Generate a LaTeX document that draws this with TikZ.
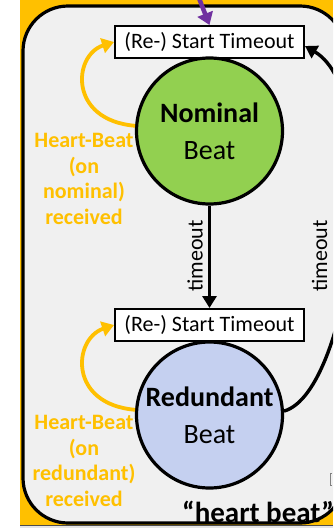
\documentclass[tikz,border=0pt]{standalone}
\usepackage{fontspec}
\setmainfont{Carlito}
\usetikzlibrary{arrows.meta}
\definecolor{hbyellow}{HTML}{FFC000}
\definecolor{panelgray}{HTML}{F0F0F0}
\definecolor{nomgreen}{HTML}{92D050}
\definecolor{redblue}{HTML}{C5D0F0}
\definecolor{evpurple}{HTML}{7030A0}

\begin{document}
\begin{tikzpicture}[x=1pt,y=-1pt,
  timerbox/.style={draw=black, line width=2pt, fill=white,
    minimum width=189pt, minimum height=32pt, inner sep=0pt,
    font=\fontsize{22}{26}\selectfont},
  beatstate/.style={circle, draw=black, line width=3.2pt, minimum size=146pt,
    inner sep=0pt, align=center, font=\fontsize{28}{37}\selectfont},
  hbtext/.style={text=hbyellow, font=\bfseries\fontsize{22}{25.7}\selectfont,
    align=center, inner sep=0pt},
  looparrow/.style={draw=hbyellow, line width=3.8pt,
    -{Triangle[length=12pt,width=15pt]}},
  transarrow/.style={draw=black, line width=3.4pt,
    -{Triangle[length=12pt,width=14pt]}},
  eventarrow/.style={draw=evpurple, line width=4.5pt,
    -{Triangle[length=12pt,width=16pt]}},
  edgelabel/.style={font=\fontsize{22}{26}\selectfont, rotate=90, inner sep=0pt}
]
\useasboundingbox (0,0) rectangle (333,528);
\clip (0,0) rectangle (333,528);

% backdrop and state-machine panel
\fill[white] (0,0) rectangle (333,528);
\fill[hbyellow] (20,0) rectangle (333,525);
\fill[gray!20] (20,525) rectangle (333,528);
\draw[gray!60!black, line width=1.2pt] (20,525.5) -- (333,525.5);
\draw[fill=panelgray, line width=3.2pt, rounded corners=45pt]
  (23,6) rectangle (345,523);

% timers and states
\node[timerbox] (t1) at (209.5,42) {(Re-) Start Timeout};
\node[timerbox] (t2) at (209.5,325) {(Re-) Start Timeout};
\node[beatstate, fill=nomgreen] (nom) at (209.5,131) {\textbf{Nominal}\\Beat};
\node[beatstate, fill=redblue] (red) at (209.5,415) {\textbf{Redundant}\\Beat};

% incoming event from above
\coordinate (evsrc) at (195,-12);
\draw[eventarrow] (evsrc) -- (t1.north);

% heart-beat self loops
\draw[looparrow] (nom.176) .. controls (68,120) and (73,55) .. (t1.west);
\draw[looparrow] (red.176) .. controls (68,404) and (73,339) .. (t2.west);

% timeout transitions
\draw[transarrow] (nom.south) -- (t2.north);
\draw[transarrow] (red.3) .. controls (352,392) and (388,95) .. ([yshift=-4pt]t1.east);

% labels
\node[edgelabel] (lab1) at (195,256) {timeout};
\node[edgelabel] (lab2) at (319.5,256) {timeout};
\node[hbtext] (hb1) at (84,179) {Heart-Beat\\(on\\nominal)\\received};
\node[hbtext] (hb2) at (84,461) {Heart-Beat\\(on\\redundant)\\received};
\node[anchor=base west, inner sep=0pt, font=\bfseries\fontsize{29}{34}\selectfont]
  (caption) at (182,522) {“heart beat”};

% small mark at the right edge
\draw[gray, line width=0.6pt] (331.5,473) -- (330.3,473) -- (330.3,485) -- (331.5,485);
\end{tikzpicture}
\end{document}
